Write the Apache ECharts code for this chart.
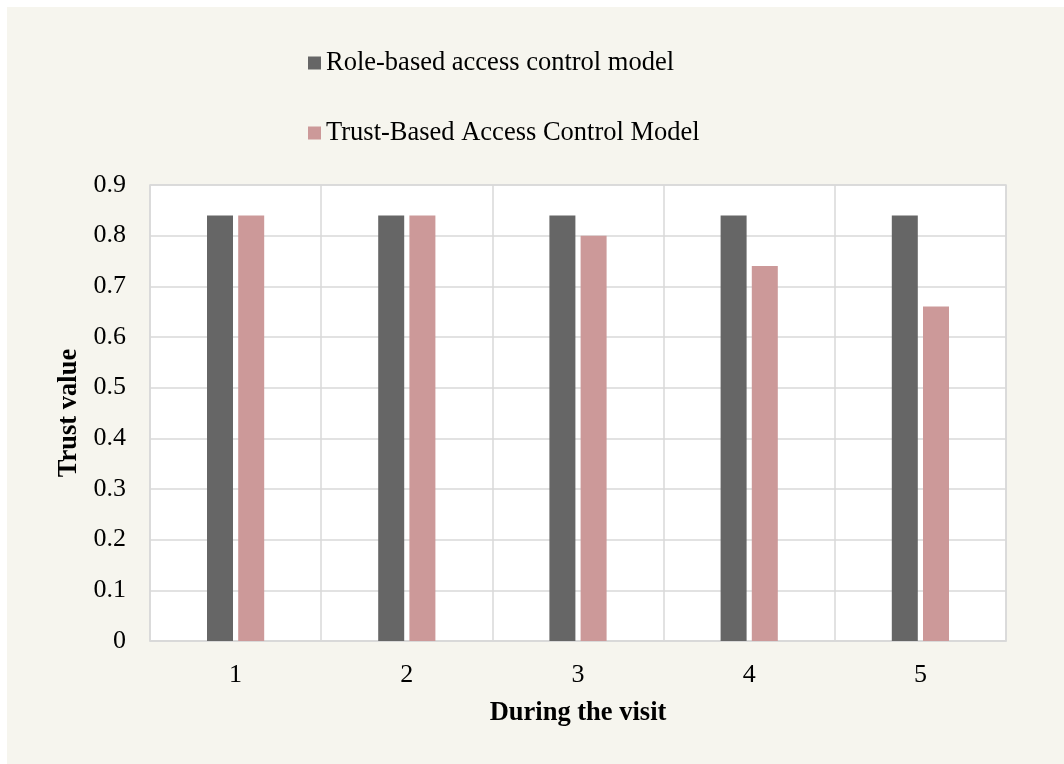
<!DOCTYPE html>
<html>

<head>
    <meta charset="utf-8" />
    <script src="https://cdn.jsdelivr.net/npm/echarts@6/dist/echarts.min.js"></script>
    <style>
        html, body { margin: 0; padding: 0; background: #ffffff; }
        #main { position: absolute; left: 7px; top: 7px; width: 1057px; height: 757px; }
    </style>
</head>

<body>
    <div id="main"></div>
    <script type="text/javascript">
        // data
        const visits = ['1', '2', '3', '4', '5'];
        const roleBased = [0.84, 0.84, 0.84, 0.84, 0.84];
        const trustBased = [0.84, 0.84, 0.80, 0.74, 0.66];
        const seriesNames = ['Role-based access control model', 'Trust-Based Access Control Model'];

        const myChart = echarts.init(document.getElementById('main'), null, { renderer: 'canvas' });
        const font = '"Liberation Serif", "Times New Roman", serif';

        const option = {
            backgroundColor: '#f6f5ee',
            textStyle: { fontFamily: font, color: '#000' },
            legend: {
                orient: 'vertical',
                left: 296,
                top: 36,
                icon: 'rect',
                itemWidth: 13,
                itemHeight: 13,
                itemGap: 40,
                textStyle: { fontFamily: font, fontSize: 26.5, color: '#000', lineHeight: 30 },
                data: seriesNames
            },
            grid: {
                left: 143,
                top: 178,
                width: 856,
                height: 456,
                show: true,
                backgroundColor: '#ffffff',
                borderColor: '#d9d9d9',
                borderWidth: 1.5
            },
            xAxis: {
                type: 'category',
                data: visits,
                name: 'During the visit',
                nameLocation: 'middle',
                nameGap: 59,
                nameTextStyle: { fontFamily: font, fontSize: 26.5, fontWeight: 'bold', color: '#000' },
                axisLine: { lineStyle: { color: '#d9d9d9', width: 1.5 } },
                axisTick: { show: false },
                axisLabel: { fontFamily: font, fontSize: 26, color: '#000', margin: 21 },
                splitLine: { show: true, lineStyle: { color: '#d9d9d9', width: 1.5 } }
            },
            yAxis: {
                type: 'value',
                min: 0,
                max: 0.9,
                interval: 0.1,
                name: 'Trust value',
                nameLocation: 'middle',
                nameGap: 67,
                nameTextStyle: { fontFamily: font, fontSize: 26.5, fontWeight: 'bold', color: '#000' },
                axisLine: { show: false },
                axisTick: { show: false },
                axisLabel: {
                    fontFamily: font, fontSize: 26, color: '#000', margin: 24,
                    formatter: function (v) { return String(Math.round(v * 10) / 10); }
                },
                splitLine: { lineStyle: { color: '#d9d9d9', width: 1.5 } }
            },
            series: [
                {
                    name: seriesNames[0],
                    type: 'bar',
                    data: roleBased,
                    barWidth: 26,
                    barGap: '20%',
                    itemStyle: { color: '#666666' }
                },
                {
                    name: seriesNames[1],
                    type: 'bar',
                    data: trustBased,
                    barWidth: 26,
                    barGap: '20%',
                    itemStyle: { color: '#cc9999' }
                }
            ]
        };

        myChart.setOption(option);
        window.addEventListener('resize', myChart.resize);
    </script>
</body>

</html>
